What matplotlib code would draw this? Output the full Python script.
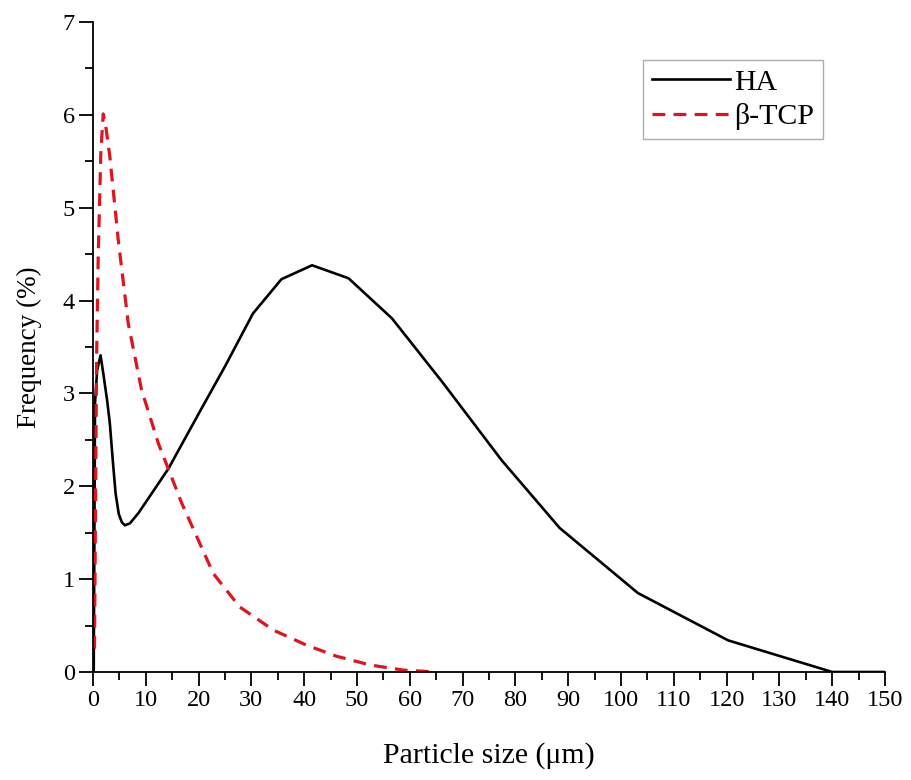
import matplotlib
matplotlib.use('Agg')
import matplotlib.pyplot as plt
from matplotlib.ticker import MultipleLocator

plt.rcParams['font.family'] = ['Liberation Serif', 'DejaVu Serif']

# particle size (um) and frequency (%)
ha_size = [0.15, 0.4, 0.8, 1.45, 2.0, 2.7, 3.2, 3.8, 4.3, 4.9, 5.5, 6.06, 7.0, 8.6,
           11.1, 14.3, 20.3, 25.0, 30.3, 35.7, 41.5, 48.4, 56.6, 66.2, 77.4, 88.4,
           103.2, 120.3, 140.0, 150.0]
ha_freq = [0.0, 2.9, 3.25, 3.41, 3.2, 2.92, 2.68, 2.25, 1.92, 1.7, 1.61, 1.58, 1.6, 1.71,
           1.92, 2.19, 2.81, 3.29, 3.86, 4.23, 4.38, 4.24, 3.81, 3.12, 2.28, 1.55,
           0.85, 0.34, 0.0, 0.0]

tcp_size = [0.3, 0.55, 0.7, 1.0, 1.5, 1.95, 2.5, 3.2, 4.8, 6.7, 9.2, 12.4, 16.8,
            22.8, 27.8, 34.2, 40.4, 46.1, 52.5, 58.8, 65.0]
tcp_freq = [0.25, 2.3, 3.39, 4.47, 5.6, 6.01, 5.85, 5.55, 4.65, 3.75, 3.04, 2.46, 1.82,
            1.06, 0.70, 0.45, 0.29, 0.17, 0.075, 0.02, 0.0]

fig = plt.figure(figsize=(9.11, 7.8), dpi=100)
ax = fig.add_axes([0.102, 0.1385, 0.8695, 0.8333])

ax.plot(ha_size, ha_freq, color='black', linewidth=1.9, label='HA')
ax.plot(tcp_size, tcp_freq, color='#e0141e', linewidth=2.3,
        linestyle=(0, (4, 2.6)), label='β-TCP')

ax.set_xlim(0, 150)
ax.set_ylim(0, 7)
ax.xaxis.set_major_locator(MultipleLocator(10))
ax.xaxis.set_minor_locator(MultipleLocator(5))
ax.yaxis.set_major_locator(MultipleLocator(1))
ax.yaxis.set_minor_locator(MultipleLocator(0.5))

for s in ['top', 'right']:
    ax.spines[s].set_visible(False)
for s in ['left', 'bottom']:
    ax.spines[s].set_linewidth(1.3)
    ax.spines[s].set_clip_on(False)

ax.tick_params(axis='both', which='major', direction='out', length=10,
               width=1.3, labelsize=17.5, pad=3)
ax.tick_params(axis='both', which='minor', direction='out', length=6, width=1.3)

ax.set_xlabel('Particle size (μm)', fontsize=21.5, labelpad=22)
ax.set_ylabel('Frequency (%)', fontsize=19.5, labelpad=15)

leg = ax.legend(loc='upper left', bbox_to_anchor=(643 / 911, 1 - 60 / 780),
                bbox_transform=fig.transFigure, fontsize=21.5, frameon=True,
                fancybox=False, handlelength=2.6, handletextpad=0.15,
                borderpad=0.3, labelspacing=0.25, borderaxespad=0)
leg.get_frame().set_edgecolor('#999999')
leg.get_frame().set_linewidth(1.0)

fig.savefig('out.png', dpi=100)
